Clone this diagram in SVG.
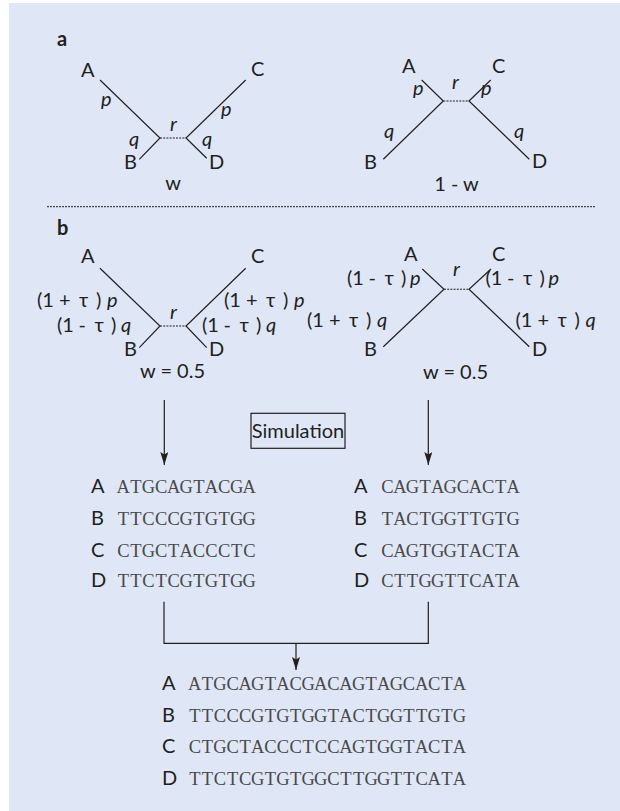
<svg xmlns="http://www.w3.org/2000/svg" width="620" height="811" viewBox="0 0 620 811">
<style>
.ln{stroke:#231f20;stroke-width:1.2;fill:none}
.dash{stroke:#231f20;stroke-width:1.1;stroke-dasharray:2 1.2;fill:none}
.lb{font-family:Lato,"Open Sans",sans-serif;font-size:20px;fill:#231f20}
.it{font-style:italic}
.hd{font-family:Lato,"Open Sans",sans-serif;font-weight:bold;font-size:20px;fill:#231f20}
.seq{font-family:"Liberation Serif",serif;font-size:18.5px;fill:#4a4a4a;text-anchor:middle}
</style>
<defs>
<marker id="ah" viewBox="0 0 14 8" refX="13" refY="4" markerWidth="14" markerHeight="8" markerUnits="userSpaceOnUse" orient="auto">
<path d="M0,0 L13,4 L0,8 L2.5,4 Z" fill="#231f20"/>
</marker>
</defs>
<rect x="9" y="3" width="611" height="808" fill="#dfe7f6"/>

<g id="panel-a-label"><text class="hd" x="57" y="46">a</text></g>

<g id="tree-a1">
<path class="ln" d="M100,80 L160,138 L139.3,159.3 M245.7,80 L186,138 L206.7,158.3"/>
<path class="dash" d="M160,138 H186"/>
<g class="lb">
<text x="81" y="77">A</text><text x="251" y="76">C</text>
<text x="124" y="169">B</text><text x="209" y="169">D</text>
<text class="it" x="101" y="106">p</text><text class="it" x="221" y="116">p</text>
<text class="it" x="170" y="131">r</text>
<text class="it" x="129" y="146">q</text><text class="it" x="202" y="146">q</text>
<text x="173" y="190" text-anchor="middle">w</text>
</g>
</g>

<g id="tree-a2">
<path class="ln" d="M421.7,80 L443.3,101 L383.3,159.3 M490.7,80 L469,101 L529.3,159.3"/>
<path class="dash" d="M443.3,101 H469"/>
<g class="lb">
<text x="402" y="73">A</text><text x="492" y="73">C</text>
<text x="364" y="169">B</text><text x="532" y="168">D</text>
<text class="it" x="413" y="95">p</text><text class="it" x="452" y="89">r</text>
<text class="it" x="481" y="95">p</text>
<text class="it" x="384" y="138">q</text><text class="it" x="514" y="138">q</text>
<text x="456.5" y="191" text-anchor="middle">1 - w</text>
</g>
</g>

<path id="separator" d="M47,206.7 H595" stroke="#231f20" stroke-width="1" stroke-dasharray="2 1" fill="none"/>

<g id="panel-b-label"><text class="hd" x="57" y="235">b</text></g>

<g id="tree-b1">
<path class="ln" d="M100,268.3 L160,326 L139.3,347.7 M245.7,268.3 L186,326 L206.7,347.7"/>
<path class="dash" d="M160,326 H186"/>
<g class="lb">
<text x="81" y="263">A</text><text x="251" y="263">C</text>
<text x="124" y="356">B</text><text x="209" y="356">D</text>
<text class="it" x="170" y="319">r</text>
<text y="307"><tspan x="37">(1</tspan><tspan x="59">+</tspan><tspan x="79">τ</tspan><tspan x="96">)</tspan><tspan class="it" x="107">p</tspan></text>
<text y="332"><tspan x="57">(1</tspan><tspan x="78.5">-</tspan><tspan x="94.5">τ</tspan><tspan x="111">)</tspan><tspan class="it" x="121">q</tspan></text>
<text y="307"><tspan x="224">(1</tspan><tspan x="246">+</tspan><tspan x="266">τ</tspan><tspan x="283">)</tspan><tspan class="it" x="294">p</tspan></text>
<text y="332"><tspan x="202">(1</tspan><tspan x="223.5">-</tspan><tspan x="239.5">τ</tspan><tspan x="256">)</tspan><tspan class="it" x="266">q</tspan></text>
<text x="172.5" y="378" text-anchor="middle">w = 0.5</text>
</g>
</g>

<g id="tree-b2">
<path class="ln" d="M422.3,269 L444,289.3 L383.3,346.7 M491,269 L469,289.3 L529.3,346.7"/>
<path class="dash" d="M444,289.3 H469"/>
<g class="lb">
<text x="404" y="261">A</text><text x="492" y="261">C</text>
<text x="364" y="356">B</text><text x="532" y="356">D</text>
<text class="it" x="453" y="276">r</text>
<text y="285"><tspan x="347">(1</tspan><tspan x="368.5">-</tspan><tspan x="384.5">τ</tspan><tspan x="401">)</tspan><tspan class="it" x="410">p</tspan></text>
<text y="285"><tspan x="485.5">(1</tspan><tspan x="507">-</tspan><tspan x="523">τ</tspan><tspan x="539.5">)</tspan><tspan class="it" x="548.5">p</tspan></text>
<text y="327"><tspan x="307">(1</tspan><tspan x="329">+</tspan><tspan x="349">τ</tspan><tspan x="366">)</tspan><tspan class="it" x="377">q</tspan></text>
<text y="327"><tspan x="515.5">(1</tspan><tspan x="537.5">+</tspan><tspan x="557.5">τ</tspan><tspan x="574.5">)</tspan><tspan class="it" x="585.5">q</tspan></text>
<text x="455.5" y="379" text-anchor="middle">w = 0.5</text>
</g>
</g>

<g id="simulation">
<rect x="251" y="413.3" width="94" height="35" fill="none" stroke="#231f20" stroke-width="1.2"/>
<text class="lb" x="298" y="437.5" text-anchor="middle">Simulation</text>
</g>

<g id="seq-left">
<g class="lb"><text x="91" y="493">A</text><text x="91" y="525">B</text><text x="91" y="557">C</text><text x="91" y="587">D</text></g>
<g class="seq">
<text x="123.3 135.9 148.5 161.1 173.7 186.3 198.9 211.5 224.1 236.7 249.3" y="493">ATGCAGTACGA</text>
<text x="123.3 135.9 148.5 161.1 173.7 186.3 198.9 211.5 224.1 236.7 249.3" y="525">TTCCCGTGTGG</text>
<text x="123.3 135.9 148.5 161.1 173.7 186.3 198.9 211.5 224.1 236.7 249.3" y="557">CTGCTACCCTC</text>
<text x="123.3 135.9 148.5 161.1 173.7 186.3 198.9 211.5 224.1 236.7 249.3" y="587">TTCTCGTGTGG</text>
</g>
</g>

<g id="seq-right">
<g class="lb"><text x="354" y="493">A</text><text x="354" y="525">B</text><text x="354" y="557">C</text><text x="354" y="587">D</text></g>
<g class="seq">
<text x="387.3 399.9 412.5 425.1 437.7 450.3 462.9 475.5 488.1 500.7 513.3" y="493">CAGTAGCACTA</text>
<text x="387.3 399.9 412.5 425.1 437.7 450.3 462.9 475.5 488.1 500.7 513.3" y="525">TACTGGTTGTG</text>
<text x="387.3 399.9 412.5 425.1 437.7 450.3 462.9 475.5 488.1 500.7 513.3" y="557">CAGTGGTACTA</text>
<text x="387.3 399.9 412.5 425.1 437.7 450.3 462.9 475.5 488.1 500.7 513.3" y="587">CTTGGTTCATA</text>
</g>
</g>

<g id="seq-merged">
<g class="lb"><text x="162" y="690">A</text><text x="162" y="722">B</text><text x="162" y="753">C</text><text x="162" y="785">D</text></g>
<g class="seq">
<text x="194.8 207.4 220 232.6 245.2 257.8 270.4 283 295.6 308.2 320.8 333.4 346 358.6 371.2 383.8 396.4 409 421.6 434.2 446.8 459.4" y="690">ATGCAGTACGACAGTAGCACTA</text>
<text x="194.8 207.4 220 232.6 245.2 257.8 270.4 283 295.6 308.2 320.8 333.4 346 358.6 371.2 383.8 396.4 409 421.6 434.2 446.8 459.4" y="722">TTCCCGTGTGGTACTGGTTGTG</text>
<text x="194.8 207.4 220 232.6 245.2 257.8 270.4 283 295.6 308.2 320.8 333.4 346 358.6 371.2 383.8 396.4 409 421.6 434.2 446.8 459.4" y="753">CTGCTACCCTCCAGTGGTACTA</text>
<text x="194.8 207.4 220 232.6 245.2 257.8 270.4 283 295.6 308.2 320.8 333.4 346 358.6 371.2 383.8 396.4 409 421.6 434.2 446.8 459.4" y="785">TTCTCGTGTGGCTTGGTTCATA</text>
</g>
</g>

<g id="connectors">
<path class="ln" d="M164.3,400 V465" marker-end="url(#ah)"/>
<path class="ln" d="M428.3,400 V465" marker-end="url(#ah)"/>
<path class="ln" d="M164,601.7 V643.3 H428.3 V601.7"/>
<path class="ln" d="M296,643.3 V670" marker-end="url(#ah)"/>
</g>
</svg>
